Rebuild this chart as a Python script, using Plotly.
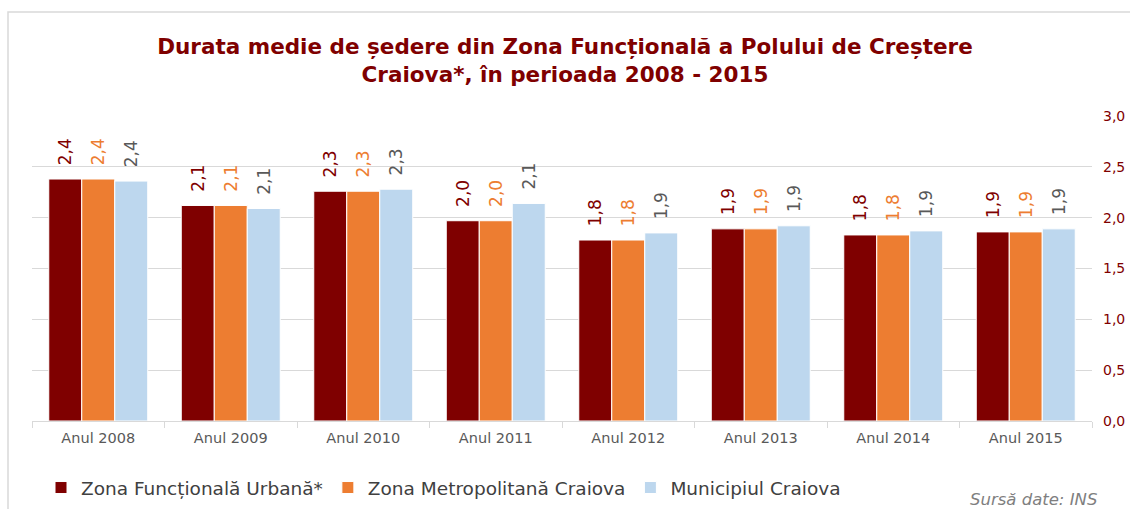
import plotly.graph_objects as go

categories = ["Anul 2008", "Anul 2009", "Anul 2010", "Anul 2011",
              "Anul 2012", "Anul 2013", "Anul 2014", "Anul 2015"]
series_names = ["Zona Funcțională Urbană*", "Zona Metropolitană Craiova", "Municipiul Craiova"]
zfu = [2.38, 2.12, 2.26, 1.97, 1.78, 1.89, 1.83, 1.86]
zmc = [2.38, 2.12, 2.26, 1.97, 1.78, 1.89, 1.83, 1.86]
mun = [2.36, 2.09, 2.28, 2.14, 1.85, 1.92, 1.87, 1.89]
y_ticks = [0, 0.5, 1.0, 1.5, 2.0, 2.5, 3.0]

bar_colors = ["#7F0000", "#ED7D31", "#BDD7EE"]
label_colors = ["#7F0000", "#ED7D31", "#595959"]
FONT = "DejaVu Sans, sans-serif"

fig = go.Figure()
for name, vals, bc, lc in zip(series_names, [zfu, zmc, mun], bar_colors, label_colors):
    fig.add_trace(go.Bar(
        x=categories, y=vals, name=name,
        marker=dict(color=bc, line=dict(color="white", width=1)),
        texttemplate="\u00a0\u00a0%{y:.1f}", textposition="outside",
        textangle=-90, constraintext="none", cliponaxis=False,
        textfont=dict(color=lc, size=17, family=FONT),
        hoverinfo="skip",
    ))

L, R, T, B = 32, 38, 116, 88
W, H = 1130, 509
pw, ph = W - L - R, H - T - B

def px_x(p):
    return (p - L) / pw

def px_y(p):
    return (H - B - p) / ph

fig.update_layout(
    width=W, height=H,
    margin=dict(l=L, r=R, t=T, b=B, autoexpand=False),
    paper_bgcolor="white", plot_bgcolor="white",
    separators=",.",
    barmode="group", bargap=0.253, bargroupgap=0,
    font=dict(family=FONT, color="#595959"),
    title=dict(
        text="Durata medie de ședere din Zona Funcțională a Polului de Creștere<br>Craiova*, în perioada 2008 - 2015",
        x=0.5, xref="container", xanchor="center",
        y=1 - 54 / H, yref="container", yanchor="middle",
        font=dict(family=FONT, size=21.5, color="#7F0000", weight="bold"),
    ),
    xaxis=dict(
        showline=True, linecolor="#D9D9D9", linewidth=1, automargin=False,
        ticks="outside", tickson="boundaries", ticklen=6, tickcolor="#D9D9D9",
        ticklabelstandoff=4,
        showgrid=False, tickfont=dict(size=14.5, color="#595959"),
    ),
    yaxis=dict(
        side="right", range=[0, 3.0], tickvals=y_ticks, tickformat=".1f",
        showgrid=True, gridcolor="#D9D9D9", gridwidth=1, zeroline=False,
        ticks="", ticklabelstandoff=10, automargin=False,
        tickfont=dict(size=14, color="#7F0000"),
    ),
    legend=dict(
        orientation="h", x=px_x(41), xanchor="left",
        y=px_y(488), yanchor="middle",
        font=dict(size=18.5, color="#404040"),
        itemclick=False, bgcolor="rgba(0,0,0,0)",
    ),
    showlegend=True,
)

fig.add_annotation(
    text="<i>Sursă date: INS</i>", xref="paper", yref="paper",
    x=px_x(1099), y=px_y(500), xanchor="right", yanchor="middle",
    showarrow=False, font=dict(size=16.5, color="#7F7F7F", family=FONT),
)

fig.add_shape(
    type="rect", xref="paper", yref="paper",
    x0=px_x(8), x1=px_x(1140), y0=px_y(520), y1=px_y(12),
    line=dict(color="#D9D9D9", width=1.5), fillcolor="rgba(0,0,0,0)", layer="below",
)

fig.write_html(
    "out.html",
    config={"displayModeBar": False},
    post_script="document.body.style.margin='0';document.body.style.overflow='hidden';",
)
